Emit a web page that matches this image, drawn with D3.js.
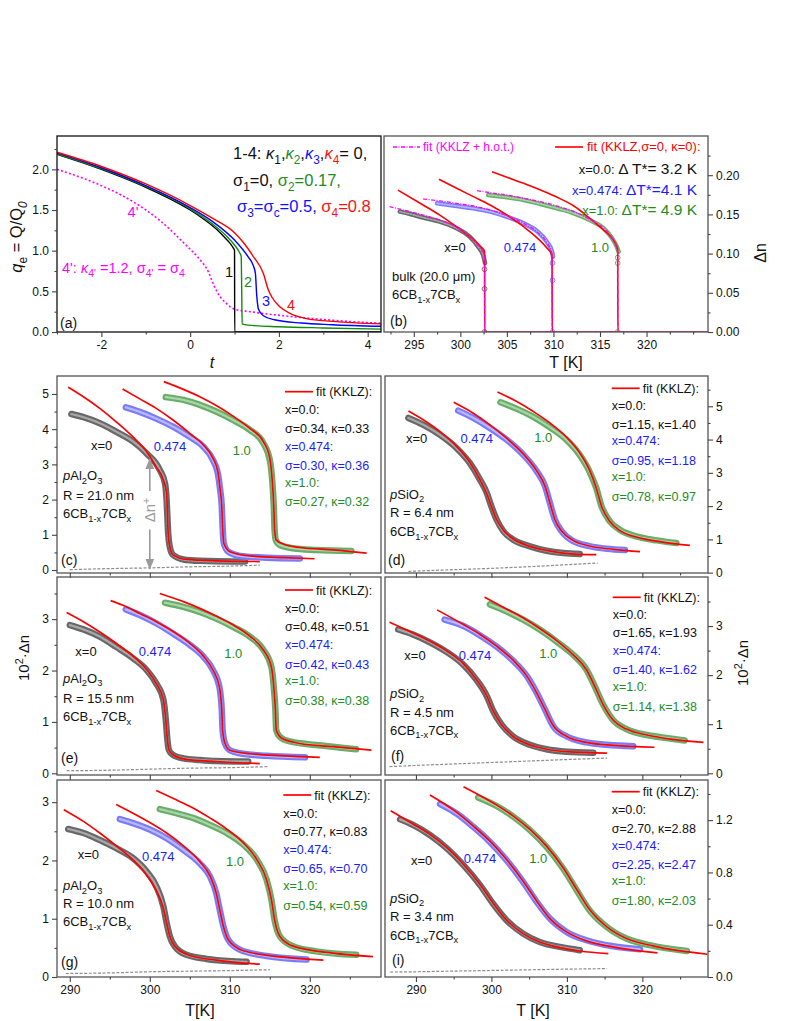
<!DOCTYPE html>
<html>
<head>
<meta charset="utf-8">
<script src="https://cdn.jsdelivr.net/npm/d3@7"></script>
<style>
  body { margin: 0; background: #fff; }
  svg { font-family: "Liberation Sans", Arial, sans-serif; }
</style>
</head>
<body>
<script>
// ---------- panel (a): q_e vs t ----------
const aCurve1 = [[-3,2.185],[-2.5,2.095],[-2,2.0],[-1.5,1.895],[-1,1.78],[-0.5,1.65],[0,1.5],[0.3,1.39],[0.6,1.26],[0.8,1.15],[0.9,1.09],[0.97,1.035],[1.0,1.0],[1.004,0.0],[4.3,0.0]];
const aCurve2 = [[-3,2.19],[-2,2.01],[-1,1.79],[0,1.515],[0.5,1.33],[0.8,1.19],[1.0,1.07],[1.1,0.99],[1.15,0.93],[1.162,0.5],[1.172,0.10],[1.3,0.085],[2,0.065],[3,0.05],[4.3,0.035]];
const aCurve3 = [[-3,2.20],[-2,2.02],[-1,1.80],[0,1.53],[0.5,1.36],[1.0,1.13],[1.3,0.93],[1.42,0.82],[1.47,0.72],[1.5,0.45],[1.54,0.28],[1.65,0.2],[1.9,0.15],[2.5,0.11],[3.2,0.09],[4.3,0.07]];
const aCurve4 = [[-3,2.21],[-2,2.035],[-1,1.82],[0,1.555],[0.5,1.40],[1.0,1.22],[1.2,1.10],[1.42,0.93],[1.65,0.72],[1.76,0.52],[1.84,0.43],[2.02,0.31],[2.25,0.23],[2.62,0.165],[3.2,0.13],[4.3,0.10]];
const aCurve4p = [[-3,2.0],[-2.41,1.89],[-2.0,1.80],[-1.28,1.60],[-0.68,1.37],[-0.08,1.06],[0.22,0.89],[0.41,0.74],[0.5,0.62],[0.62,0.48],[0.82,0.35],[1.0,0.28],[1.35,0.25],[2.1,0.20],[3.2,0.145],[4.3,0.107]];
const aXTicks = [-2,0,2,4], aXMinor = [-3,-1,1,3];
const aYTicks = [0,0.5,1.0,1.5,2.0], aYMinor = [0.25,0.75,1.25,1.75,2.25];

// ---------- panel (b): bulk ----------
const bData0 = [[293.5,0.1535],[294.6,0.1505],[296.0,0.146],[297.8,0.1407],[299.6,0.1322],[301.0,0.1216],[301.9,0.109],[302.5,0.096],[302.65,0.088]];
const bFit0 = [[293.3,0.181],[296.0,0.162],[297.8,0.149],[299.6,0.134],[301.0,0.1216],[302.1,0.110],[302.6,0.103],[302.62,0],[309.9,0]];
const bHot0 = [[292.4,0.1598],[294.2,0.1547],[296.0,0.1492],[297.8,0.1428],[299.6,0.1335],[301.0,0.1216],[302.1,0.107],[302.6,0.096],[302.62,0],[326.6,0]];
const bData474 = [[297.5,0.1641],[299.6,0.1607],[301.4,0.1577],[303.2,0.1535],[305.0,0.147],[306.8,0.1386],[308.3,0.128],[309.3,0.115],[309.85,0.1025],[309.95,0.096]];
const bFit474 = [[297.7,0.1948],[299.6,0.1833],[301.4,0.1727],[303.2,0.162],[305.0,0.1492],[306.8,0.1343],[308.3,0.1195],[309.3,0.107],[309.85,0.0982],[309.87,0],[316.9,0]];
const bHot474 = [[296.0,0.1697],[297.8,0.1672],[299.6,0.1641],[301.4,0.1607],[303.2,0.1556],[305.0,0.1484],[306.8,0.1386],[308.3,0.1271],[309.3,0.114],[309.85,0.100],[309.87,0]];
const bData1 = [[303.0,0.1748],[305.0,0.1718],[306.8,0.1684],[308.6,0.1633],[310.4,0.1577],[312.2,0.1514],[313.9,0.1428],[315.4,0.1322],[316.3,0.1195],[316.8,0.109],[317.0,0.1025]];
const bFit1 = [[303.4,0.2045],[305.0,0.1973],[306.8,0.1896],[308.6,0.181],[310.4,0.1718],[312.2,0.1607],[313.9,0.145],[315.4,0.130],[316.3,0.1195],[316.8,0.109],[316.9,0.1046],[316.92,0],[326.6,0]];
const bHot1 = [[301.8,0.1803],[303.2,0.1777],[305.0,0.1748],[306.8,0.1705],[308.6,0.1662],[310.4,0.1607],[312.2,0.1535],[313.9,0.1437],[315.4,0.1322],[316.3,0.1195],[316.9,0.1025],[316.92,0]];
const bDrop0 = [[302.6,0.08],[302.6,0.055],[302.6,0.0]];
const bDrop474 = [[309.9,0.088],[309.9,0.066],[309.9,0.0]];
const bDrop1 = [[316.9,0.095],[316.9,0.088],[316.9,0.0]];
const bXTicks = [295,300,305,310,315,320], bXMinor = [292.5,297.5,302.5,307.5,312.5,317.5,322.5,325];
const bYTicks = [0,0.05,0.10,0.15,0.20], bYMinor = [0.025,0.075,0.125,0.175,0.225];

// ---------- panel (c): pAl2O3, R = 21.0 nm ----------
const cData0 = [[290.2,4.43],[291.7,4.34],[293.75,4.17],[295.8,3.93],[297.9,3.65],[299.6,3.31],[301.25,2.84],[301.9,2.46],[302.1,1.99],[302.2,1.51],[302.3,1.04],[302.5,0.66],[302.9,0.43],[304.2,0.30],[306.25,0.26],[310.4,0.24],[311.9,0.24]];
const cFit0 = [[289.8,5.19],[291.7,4.92],[293.75,4.59],[295.8,4.21],[297.9,3.78],[299.6,3.36],[300.8,2.93],[301.7,2.56],[302.1,2.18],[302.2,1.61],[302.3,1.04],[302.5,0.66],[302.9,0.43],[304.6,0.30],[308.3,0.26],[313.75,0.24]];
const cData474 = [[297.0,4.62],[298.75,4.49],[300.8,4.30],[302.9,4.07],[305.0,3.78],[306.7,3.50],[307.9,3.12],[308.5,2.75],[308.8,2.27],[309.0,1.80],[309.1,1.23],[309.25,0.76],[309.8,0.52],[311.25,0.40],[314.6,0.35],[318.75,0.33]];
const cFit474 = [[296.6,5.14],[298.75,4.86],[300.8,4.59],[302.9,4.26],[305.0,3.88],[306.7,3.55],[307.9,3.17],[308.5,2.79],[308.8,2.27],[309.0,1.80],[309.1,1.23],[309.25,0.76],[310.0,0.52],[312.5,0.40],[316.7,0.35],[320.6,0.32]];
const cData1 = [[302.0,4.91],[304.2,4.83],[306.25,4.69],[308.3,4.50],[310.4,4.26],[312.5,3.98],[314.2,3.60],[315.0,3.13],[315.3,2.56],[315.5,1.80],[315.6,1.14],[315.75,0.85],[316.25,0.71],[317.9,0.62],[320.8,0.57],[325.2,0.54]];
const cFit1 = [[301.75,5.35],[304.2,5.13],[306.25,4.92],[308.3,4.67],[310.4,4.37],[312.5,4.02],[314.2,3.64],[315.0,3.17],[315.3,2.56],[315.5,1.80],[315.6,1.14],[315.8,0.85],[316.7,0.74],[318.75,0.64],[322.9,0.57],[327.1,0.48]];
const cBase = [[290,0.01],[295,0.04],[300,0.06],[305,0.09],[310,0.11],[313.75,0.14]];

// ---------- panel (d): pSiO2, R = 6.4 nm ----------
const dData0 = [[289.0,4.65],[291.0,4.44],[293.2,4.14],[295.4,3.74],[297.15,3.29],[298.5,2.79],[299.4,2.39],[300.0,1.99],[300.7,1.59],[301.6,1.24],[302.9,0.99],[305.1,0.79],[307.3,0.66],[309.5,0.59],[311.7,0.56]];
const dFit0 = [[289.0,4.86],[291.0,4.59],[293.2,4.24],[295.4,3.79],[297.15,3.31],[298.5,2.79],[299.4,2.37],[300.0,1.99],[300.7,1.59],[301.6,1.27],[302.9,1.01],[305.1,0.79],[307.3,0.67],[309.5,0.59],[311.7,0.55],[313.9,0.54]];
const dData474 = [[295.6,4.87],[297.6,4.65],[299.8,4.35],[302.0,4.00],[304.2,3.55],[306.0,3.05],[307.1,2.60],[307.75,2.10],[308.4,1.60],[309.3,1.25],[310.8,0.95],[313.0,0.80],[315.3,0.72],[317.7,0.68]];
const dFit474 = [[295.0,5.12],[297.6,4.79],[299.8,4.44],[302.0,4.04],[304.2,3.57],[306.0,3.06],[307.1,2.60],[307.75,2.10],[308.4,1.60],[309.3,1.25],[310.8,0.97],[313.0,0.80],[316.2,0.70],[319.7,0.63]];
const dData1 = [[301.2,5.12],[303.3,4.93],[305.5,4.69],[307.75,4.37],[309.96,3.99],[311.7,3.54],[313.0,3.04],[313.9,2.54],[314.6,1.99],[315.7,1.54],[317.0,1.29],[319.2,1.09],[321.9,0.97],[324.5,0.89]];
const dFit1 = [[300.8,5.43],[303.3,5.15],[305.5,4.85],[307.75,4.50],[309.96,4.07],[311.7,3.60],[313.0,3.08],[313.9,2.54],[314.6,1.99],[315.7,1.54],[317.0,1.27],[319.2,1.07],[322.7,0.92],[326.3,0.82]];
const dBase = [[289,0.04],[295,0.09],[300,0.13],[305,0.18],[310,0.24],[314.1,0.29]];

// ---------- panel (e): pAl2O3, R = 15.5 nm ----------
const eData0 = [[290.0,2.885],[291.7,2.80],[293.75,2.66],[295.8,2.46],[297.9,2.24],[299.6,2.01],[300.8,1.75],[301.7,1.43],[302.0,1.04],[302.2,0.65],[302.4,0.45],[302.9,0.36],[304.2,0.29],[306.25,0.26],[308.3,0.24],[312.3,0.23]];
const eFit0 = [[289.6,3.13],[291.7,2.95],[293.75,2.75],[295.8,2.53],[297.9,2.28],[299.6,2.02],[300.8,1.75],[301.7,1.43],[302.0,1.04],[302.2,0.65],[302.4,0.45],[302.9,0.36],[304.6,0.27],[308.3,0.23],[313.75,0.19]];
const eData474 = [[297.0,3.19],[298.75,3.08],[300.8,2.92],[302.9,2.72],[305.0,2.50],[306.7,2.27],[307.9,2.01],[308.7,1.68],[309.0,1.23],[309.1,0.84],[309.4,0.58],[310.0,0.45],[311.25,0.39],[314.6,0.34],[319.4,0.31]];
const eFit474 = [[295.1,3.36],[297.1,3.24],[298.75,3.11],[300.8,2.95],[302.9,2.76],[305.0,2.53],[306.7,2.28],[307.9,2.01],[308.7,1.68],[309.0,1.23],[309.1,0.84],[309.4,0.58],[310.0,0.45],[312.5,0.38],[316.7,0.34],[321.25,0.31]];
const eData1 = [[301.9,3.32],[304.2,3.24],[306.25,3.14],[308.3,3.01],[310.4,2.85],[312.5,2.66],[314.2,2.40],[315.2,2.07],[315.5,1.68],[315.7,1.23],[315.8,0.84],[316.25,0.71],[317.5,0.62],[320.8,0.55],[325.8,0.47]];
const eFit1 = [[301.25,3.50],[304.2,3.34],[306.25,3.21],[308.3,3.06],[310.4,2.89],[312.5,2.67],[314.2,2.40],[315.2,2.07],[315.5,1.68],[315.7,1.23],[315.8,0.84],[316.5,0.68],[318.75,0.58],[322.9,0.52],[327.7,0.45]];
const eBase = [[289.6,0.05],[295,0.06],[300,0.08],[305,0.10],[310,0.11],[314.8,0.13]];

// ---------- panel (f): pSiO2, R = 4.5 nm ----------
const fData0 = [[287.65,2.93],[289.6,2.83],[291.85,2.67],[294.1,2.47],[296.3,2.21],[298.0,1.91],[299.4,1.57],[300.2,1.28],[301.35,0.99],[302.9,0.75],[305.1,0.58],[307.3,0.49],[310.0,0.44],[313.5,0.42]];
const fFit0 = [[286.5,3.08],[289.6,2.86],[291.85,2.69],[294.1,2.49],[296.3,2.23],[298.0,1.91],[299.4,1.57],[300.2,1.28],[301.35,0.99],[302.9,0.75],[305.1,0.58],[307.3,0.49],[310.0,0.44],[315.3,0.41]];
const fData474 = [[293.8,3.13],[296.3,3.00],[298.5,2.81],[300.7,2.58],[302.9,2.29],[304.7,1.98],[306.0,1.64],[307.1,1.30],[308.2,0.96],[310.0,0.75],[312.6,0.63],[315.3,0.58],[318.8,0.55]];
const fFit474 = [[292.8,3.33],[296.3,3.03],[298.5,2.83],[300.7,2.59],[302.9,2.30],[304.7,1.98],[306.0,1.64],[307.1,1.30],[308.2,0.97],[310.0,0.75],[312.6,0.63],[316.2,0.57],[321.6,0.53]];
const fData1 = [[299.8,3.44],[302.0,3.30],[304.2,3.13],[306.4,2.93],[308.6,2.69],[310.8,2.42],[312.6,2.11],[313.7,1.77],[314.8,1.40],[316.1,1.09],[317.9,0.90],[320.6,0.78],[323.2,0.72],[325.6,0.67]];
const fFit1 = [[299.1,3.59],[302.0,3.35],[304.2,3.17],[306.4,2.95],[308.6,2.71],[310.8,2.42],[312.6,2.11],[313.7,1.77],[314.8,1.40],[316.1,1.09],[317.9,0.90],[320.6,0.78],[324.1,0.69],[328.1,0.63]];
const fBase = [[286.5,0.135],[290,0.16],[295,0.19],[300,0.22],[305,0.25],[310,0.28],[315.3,0.31]];

// ---------- panel (g): pAl2O3, R = 10.0 nm ----------
const gData0 = [[289.8,2.54],[291.7,2.47],[293.75,2.35],[295.8,2.21],[297.9,2.04],[299.6,1.81],[300.8,1.56],[301.7,1.21],[302.1,0.93],[302.5,0.70],[303.1,0.53],[304.6,0.38],[307.1,0.31],[310.4,0.27],[312.1,0.26]];
const gFit0 = [[289.25,2.87],[291.7,2.67],[293.75,2.47],[295.8,2.25],[297.9,2.01],[299.6,1.75],[300.8,1.49],[301.7,1.18],[302.1,0.93],[302.5,0.70],[303.1,0.53],[305.0,0.37],[308.3,0.29],[313.75,0.22]];
const gData474 = [[296.25,2.71],[297.9,2.64],[300.0,2.53],[302.1,2.38],[304.2,2.18],[306.25,1.95],[307.5,1.73],[308.3,1.44],[308.75,1.15],[309.2,0.87],[309.8,0.64],[311.25,0.47],[314.6,0.36],[319.6,0.30]];
const gFit474 = [[295.8,2.96],[297.9,2.81],[300.0,2.65],[302.1,2.47],[304.2,2.25],[306.25,1.98],[307.5,1.74],[308.3,1.44],[308.75,1.15],[309.2,0.87],[309.8,0.64],[311.7,0.45],[316.7,0.34],[321.7,0.29]];
const gData1 = [[301.25,2.88],[303.3,2.81],[305.4,2.73],[307.5,2.61],[309.6,2.47],[311.7,2.27],[313.4,2.01],[314.6,1.67],[315.2,1.33],[315.6,0.98],[316.25,0.70],[317.9,0.53],[320.8,0.44],[325.8,0.38]];
const gFit1 = [[300.8,3.20],[303.3,3.04],[305.4,2.90],[307.5,2.73],[309.6,2.54],[311.7,2.30],[313.4,2.01],[314.6,1.67],[315.2,1.33],[315.6,0.98],[316.25,0.70],[317.9,0.53],[322.9,0.41],[327.9,0.35]];
const gBase = [[289.5,0.06],[295,0.07],[300,0.09],[305,0.10],[310,0.11],[315,0.125]];

// ---------- panel (i): pSiO2, R = 3.4 nm ----------
const iData0 = [[287.9,1.206],[289.6,1.163],[291.85,1.086],[294.1,0.984],[296.3,0.856],[298.5,0.703],[300.2,0.562],[302.0,0.435],[304.2,0.332],[306.4,0.268],[309.1,0.230],[311.7,0.205]];
const iFit0 = [[286.65,1.272],[289.6,1.171],[291.85,1.091],[294.1,0.989],[296.3,0.861],[298.5,0.708],[300.2,0.567],[302.0,0.435],[304.2,0.332],[306.4,0.268],[309.1,0.225],[311.7,0.199],[315.5,0.179]];
const iData474 = [[293.2,1.323],[295.4,1.251],[297.6,1.149],[299.8,1.034],[302.0,0.894],[304.2,0.728],[306.0,0.575],[307.75,0.447],[309.96,0.345],[312.6,0.281],[316.1,0.235],[319.7,0.212]];
const iFit474 = [[291.85,1.392],[295.4,1.259],[297.6,1.154],[299.8,1.039],[302.0,0.899],[304.2,0.733],[306.0,0.580],[307.75,0.447],[309.96,0.345],[312.6,0.276],[316.1,0.230],[322.0,0.184]];
const iData1 = [[298.25,1.374],[300.7,1.308],[302.9,1.226],[305.1,1.124],[307.3,0.996],[309.5,0.830],[311.3,0.664],[313.0,0.511],[315.3,0.383],[317.9,0.294],[321.4,0.238],[325.9,0.199]];
const iFit1 = [[296.3,1.456],[300.7,1.315],[302.9,1.231],[305.1,1.129],[307.3,1.001],[309.5,0.835],[311.3,0.669],[313.0,0.516],[315.3,0.383],[317.9,0.294],[321.4,0.238],[328.6,0.174]];
const iBase = [[286.6,0.038],[290,0.04],[295,0.045],[300,0.05],[305,0.055],[310,0.06],[315.3,0.064]];

// tick values for the T panels
const tTicks = [290,300,310,320], tMinor = [295,305,315,325];
const y5Ticks = [0,1,2,3,4,5], y5Minor = [0.5,1.5,2.5,3.5,4.5,5.5];
const y3Ticks = [0,1,2,3], y3Minor = [0.5,1.5,2.5,3.5];
const iYTicks = [0,0.4,0.8,1.2], iYMinor = [0.2,0.6,1.0,1.4];

// fit parameters (legend text)
const fitParams = {
  c: ["σ=0.34, κ=0.33", "σ=0.30, κ=0.36", "σ=0.27, κ=0.32"],
  d: ["σ=1.15, κ=1.40", "σ=0.95, κ=1.18", "σ=0.78, κ=0.97"],
  e: ["σ=0.48, κ=0.51", "σ=0.42, κ=0.43", "σ=0.38, κ=0.38"],
  f: ["σ=1.65, κ=1.93", "σ=1.40, κ=1.62", "σ=1.14, κ=1.38"],
  g: ["σ=0.77, κ=0.83", "σ=0.65, κ=0.70", "σ=0.54, κ=0.59"],
  i: ["σ=2.70, κ=2.88", "σ=2.25, κ=2.47", "σ=1.80, κ=2.03"]
};

const RED = "#ff0000", BLUE = "#1c1cff", GREEN = "#1e8c1e", MAG = "#ff00ff";
const GRAY_O = "#686868", GRAY_I = "#a8a8a8";
const BLUE_O = "#7b7bfa", BLUE_I = "#b9b9ff";
const GREEN_O = "#68ad68", GREEN_I = "#aad4aa";

const svg = d3.select("body").append("svg").attr("width", 789).attr("height", 1021);

const boxes = {
  a: {x0: 57, x1: 381, y0: 136, y1: 332},
  b: {x0: 384, x1: 708, y0: 136, y1: 332},
  c: {x0: 57, x1: 381, y0: 376, y1: 573},
  d: {x0: 385, x1: 708, y0: 376, y1: 573},
  e: {x0: 57, x1: 381, y0: 577, y1: 775},
  f: {x0: 385, x1: 708, y0: 577, y1: 775},
  g: {x0: 57, x1: 381, y0: 780, y1: 977},
  i: {x0: 385, x1: 708, y0: 780, y1: 977}
};

function makePanel(key, xd, yd) {
  const b = boxes[key];
  const x = d3.scaleLinear().domain(xd).range([b.x0, b.x1]);
  const y = d3.scaleLinear().domain(yd).range([b.y1, b.y0]);
  svg.append("clipPath").attr("id", "clip-" + key)
    .append("rect").attr("x", b.x0).attr("y", b.y0)
    .attr("width", b.x1 - b.x0).attr("height", b.y1 - b.y0);
  const g = svg.append("g").attr("clip-path", `url(#clip-${key})`);
  return {x, y, b, g};
}

function frame(p, color) {
  svg.append("rect").attr("x", p.b.x0).attr("y", p.b.y0)
    .attr("width", p.b.x1 - p.b.x0).attr("height", p.b.y1 - p.b.y0)
    .attr("fill", "none").attr("stroke", color || "#555").attr("stroke-width", 1.3);
}

function axis(p, side, major, minor, fmt) {
  const sc = side === "bottom" ? p.x : p.y;
  const mk = side === "bottom" ? d3.axisBottom : side === "left" ? d3.axisLeft : d3.axisRight;
  const pos = side === "bottom" ? `translate(0,${p.b.y1})`
    : side === "left" ? `translate(${p.b.x0},0)` : `translate(${p.b.x1},0)`;
  const tidy = g => {
    g.select(".domain").remove();
    g.selectAll("line").attr("stroke", "#444").attr("stroke-width", 1.1);
    g.selectAll("text").attr("font-size", 12).attr("fill", "#111")
      .attr("font-family", "'Liberation Sans', Arial, sans-serif");
  };
  svg.append("g").attr("transform", pos)
    .call(mk(sc).tickValues(minor).tickSize(2.5).tickFormat("")).call(tidy);
  svg.append("g").attr("transform", pos)
    .call(mk(sc).tickValues(major).tickSize(5).tickPadding(3).tickFormat(fmt || "")).call(tidy);
}

const lineOf = p => d3.line().x(d => p.x(d[0])).y(d => p.y(d[1])).curve(d3.curveMonotoneX);

function band(p, data, outer, inner, w) {
  w = w || 6.5;
  p.g.append("path").attr("d", lineOf(p)(data)).attr("fill", "none")
    .attr("stroke", outer).attr("stroke-width", w)
    .attr("stroke-linecap", "round").attr("stroke-linejoin", "round");
  p.g.append("path").attr("d", lineOf(p)(data)).attr("fill", "none")
    .attr("stroke", inner).attr("stroke-width", w * 0.35)
    .attr("stroke-linecap", "round").attr("stroke-dasharray", "2,1.5");
}

function curve(p, data, color, w, dash) {
  const path = p.g.append("path").attr("d", lineOf(p)(data)).attr("fill", "none")
    .attr("stroke", color).attr("stroke-width", w || 1.6);
  if (dash) path.attr("stroke-dasharray", dash);
  return path;
}

// rich text with sub/superscripts; y is the baseline
function rich(x, y, parts, size, opt) {
  opt = opt || {};
  const t = svg.append("text").attr("x", x).attr("y", y).attr("font-size", size)
    .attr("text-anchor", opt.anchor || "start").attr("fill", opt.fill || "#111");
  if (opt.rotate) t.attr("transform", `rotate(${opt.rotate},${x},${y})`);
  if (opt.italic) t.attr("font-style", "italic");
  let shift = 0;
  parts.forEach(q => {
    if (typeof q === "string") q = {t: q};
    const sp = t.append("tspan").text(q.t);
    const target = q.s === "sub" ? size * 0.28 : q.s === "sup" ? -size * 0.38 : 0;
    if (target - shift) sp.attr("dy", target - shift);
    shift = target;
    if (q.s) sp.attr("font-size", size * 0.72);
    else if (q.size) sp.attr("font-size", q.size);
    if (q.c) sp.attr("fill", q.c);
    if (q.i) sp.attr("font-style", "italic");
  });
  return t;
}

const mix = ["6CB", {t: "1-x", s: "sub"}, "7CB", {t: "x", s: "sub"}];

// ============ panel (a) ============
{
  const p = makePanel("a", [-3, 4.3], [0, 2.41]);
  curve(p, aCurve4p, MAG, 1.6, "2,2.2");
  curve(p, aCurve1, "#000", 1.4);
  curve(p, aCurve2, "#138a13", 1.4);
  curve(p, aCurve3, "#0000ff", 1.4);
  curve(p, aCurve4, RED, 1.4);
  frame(p, "#111");
  axis(p, "bottom", aXTicks, aXMinor, d => String(d));
  axis(p, "left", aYTicks, aYMinor, d3.format(".1f"));

  const G = "#1e8c1e", B = "#1010ff", R = "#ff1010";
  rich(233, 159, ["1-4:  ", {t: "κ", i: 1}, {t: "1", s: "sub"}, ",",
    {t: "κ", c: G, i: 1}, {t: "2", s: "sub", c: G}, ",",
    {t: "κ", c: B, i: 1}, {t: "3", s: "sub", c: B}, ",",
    {t: "κ", c: R, i: 1}, {t: "4", s: "sub", c: R}, "= 0,"], 16.5);
  rich(233, 186, ["σ", {t: "1", s: "sub"}, "=0,  ",
    {t: "σ", c: G}, {t: "2", s: "sub", c: G}, {t: "=0.17,", c: G}], 16.5);
  rich(237, 212, [{t: "σ", c: B}, {t: "3", s: "sub", c: B}, {t: "=σ", c: B}, {t: "c", s: "sub", c: B},
    {t: "=0.5,", c: B}, "  ", {t: "σ", c: R}, {t: "4", s: "sub", c: R}, {t: "=0.8", c: R}], 16.5);
  rich(62, 273, ["4': ", {t: "κ", i: 1}, {t: "4'", s: "sub"}, " =1.2, σ", {t: "4'", s: "sub"}, " = σ", {t: "4", s: "sub"}], 14.5, {fill: MAG});
  rich(133, 217, ["4'"], 14.5, {fill: MAG, anchor: "middle"});
  rich(229, 277, ["1"], 14.5, {anchor: "middle"});
  rich(248, 287, ["2"], 14.5, {anchor: "middle", fill: G});
  rich(266, 306, ["3"], 14.5, {anchor: "middle", fill: B});
  rich(291, 310, ["4"], 14.5, {anchor: "middle", fill: R});
  rich(60, 328, ["(a)"], 14);
  rich(22, 237, [{t: "q", i: 1}, {t: "e", s: "sub"}, " = Q/Q", {t: "0", s: "sub", i: 1}], 16.5, {rotate: -90, anchor: "middle"});
  rich(212, 368, ["t"], 16, {anchor: "middle", italic: true});
}

// ============ panel (b) ============
{
  const p = makePanel("b", [291.8, 326.6], [0, 0.25]);
  band(p, bData0, GRAY_O, GRAY_I, 4.5);
  band(p, bData474, BLUE_O, BLUE_I, 4.5);
  band(p, bData1, GREEN_O, GREEN_I, 4.5);
  [[bDrop0, GRAY_O], [bDrop474, BLUE_O], [bDrop1, GREEN_O]].forEach(([pts, col]) => {
    p.g.selectAll(null).data(pts).enter().append("circle")
      .attr("cx", d => p.x(d[0])).attr("cy", d => p.y(d[1])).attr("r", 2.4)
      .attr("fill", "none").attr("stroke", col).attr("stroke-width", 0.9);
  });
  curve(p, bFit0, RED, 1.6);
  curve(p, bFit474, RED, 1.6);
  curve(p, bFit1, RED, 1.6);
  curve(p, bHot0, MAG, 1.3, "4,1.5,1,1.5");
  curve(p, bHot474, MAG, 1.3, "4,1.5,1,1.5");
  curve(p, bHot1, MAG, 1.3, "4,1.5,1,1.5");
  frame(p);
  axis(p, "bottom", bXTicks, bXMinor, d => String(d));
  axis(p, "right", bYTicks, bYMinor, d3.format(".2f"));

  svg.append("line").attr("x1", 393).attr("x2", 420).attr("y1", 147).attr("y2", 147)
    .attr("stroke", MAG).attr("stroke-width", 1.3).attr("stroke-dasharray", "4,1.5,1,1.5");
  rich(423, 151, ["fit (KKLZ + h.o.t.)"], 12, {fill: MAG});
  svg.append("line").attr("x1", 555).attr("x2", 583).attr("y1", 147).attr("y2", 147)
    .attr("stroke", RED).attr("stroke-width", 1.6);
  rich(587, 151, ["fit (KKLZ,σ=0, κ=0):"], 13, {fill: RED});
  rich(697, 174, ["x=0.0:  ", {t: "Δ T*= 3.2 K", size: 15.5}], 13, {anchor: "end"});
  rich(697, 195, ["x=0.474: ", {t: "ΔT*=4.1 K", size: 15.5}], 13, {anchor: "end", fill: BLUE});
  rich(697, 215, ["x=1.0: ", {t: "ΔT*= 4.9 K", size: 15.5}], 13, {anchor: "end", fill: GREEN});
  rich(455, 252, ["x=0"], 13, {anchor: "middle"});
  rich(520, 252, ["0.474"], 13, {anchor: "middle", fill: BLUE});
  rich(600, 252, ["1.0"], 13, {anchor: "middle", fill: GREEN});
  rich(392, 281, ["bulk (20.0 μm)"], 13);
  rich(392, 299, mix, 13);
  rich(390, 326, ["(b)"], 14);
  rich(566, 368, ["T [K]"], 16, {anchor: "middle"});
  rich(766, 253, ["Δn"], 16, {rotate: -90, anchor: "middle"});
}

// ============ panels (c)-(i) ============
function tPanel(key, xd, yd, series, base, side, yt, ym, yfmt, showX, txt) {
  const p = makePanel(key, xd, yd);
  curve(p, base, "#8c8c8c", 1.2, "3,1.6");
  band(p, series[0], GRAY_O, GRAY_I);
  band(p, series[2], BLUE_O, BLUE_I);
  band(p, series[4], GREEN_O, GREEN_I);
  curve(p, series[1], RED, 1.7);
  curve(p, series[3], RED, 1.7);
  curve(p, series[5], RED, 1.7);
  frame(p);
  axis(p, "bottom", tTicks, tMinor, showX ? (d => String(d)) : "");
  axis(p, side, yt, ym, yfmt);

  // legend
  const L = txt.leg;
  svg.append("line").attr("x1", L[0]).attr("x2", L[0] + 28).attr("y1", L[1]).attr("y2", L[1])
    .attr("stroke", RED).attr("stroke-width", 1.7);
  rich(L[0] + 31, L[1] + 4.5, ["fit (KKLZ):"], 12.5);
  const lines = [["x=0.0:", "#111"], [fitParams[key][0], "#111"], ["x=0.474:", BLUE],
    [fitParams[key][1], BLUE], ["x=1.0:", GREEN], [fitParams[key][2], GREEN]];
  lines.forEach((ln, k) => rich(L[0], txt.rows[k], [ln[0]], 12.5, {fill: ln[1]}));
  rich(txt.lab[0][0], txt.lab[0][1], ["x=0"], 13, {anchor: "middle"});
  rich(txt.lab[1][0], txt.lab[1][1], ["0.474"], 13, {anchor: "middle", fill: BLUE});
  rich(txt.lab[2][0], txt.lab[2][1], ["1.0"], 13, {anchor: "middle", fill: GREEN});
  const mat = txt.mat === "Al"
    ? [{t: "p", i: 1}, "Al", {t: "2", s: "sub"}, "O", {t: "3", s: "sub"}]
    : [{t: "p", i: 1}, "SiO", {t: "2", s: "sub"}];
  rich(txt.sx, txt.sy[0], mat, 13);
  rich(txt.sx, txt.sy[1], [txt.R], 13);
  rich(txt.sx, txt.sy[2], mix, 13);
  rich(txt.tag[0], txt.tag[1], [txt.tag[2]], 14);
  return p;
}

const xLeft = [288.4, 328.9], xRight = [285.9, 328.7];

const pc = tPanel("c", xLeft, [-0.085, 5.51], [cData0, cFit0, cData474, cFit474, cData1, cFit1], cBase,
  "left", y5Ticks, y5Minor.slice(0, 5), d3.format("d"), false,
  {leg: [285, 391.7], rows: [414, 433, 451, 470, 487, 506],
   lab: [[101.7, 449.5], [170, 451], [241.7, 454.5]], mat: "Al", R: "R = 21.0 nm",
   sx: 63, sy: [480, 499.5, 518], tag: [61, 565, "(c)"]});

// Δn+ arrow in (c), broken by its label
{
  const defs = svg.append("defs");
  defs.append("marker").attr("id", "arr").attr("viewBox", "0 0 10 10")
    .attr("refX", 9).attr("refY", 5).attr("markerWidth", 7).attr("markerHeight", 7)
    .attr("orient", "auto-start-reverse")
    .append("path").attr("d", "M0,1 L10,5 L0,9 Z").attr("fill", "#9a9a9a");
  const ax = pc.x(300);
  svg.append("line").attr("x1", ax).attr("x2", ax)
    .attr("y1", pc.y(1.2)).attr("y2", pc.y(3.15))
    .attr("stroke", "#9a9a9a").attr("stroke-width", 1.6).attr("marker-end", "url(#arr)");
  svg.append("line").attr("x1", ax).attr("x2", ax)
    .attr("y1", pc.y(1.15)).attr("y2", pc.y(0.04))
    .attr("stroke", "#9a9a9a").attr("stroke-width", 1.6).attr("marker-end", "url(#arr)");
  svg.append("rect").attr("x", ax - 8).attr("y", 491).attr("width", 16).attr("height", 38).attr("fill", "#fff");
  rich(ax + 5.5, 510, ["Δn", {t: "+", s: "sup"}], 15, {rotate: -90, anchor: "middle", fill: "#9a9a9a"});
}

tPanel("d", xRight, [-0.01, 5.91], [dData0, dFit0, dData474, dFit474, dData1, dFit1], dBase,
  "right", y5Ticks, y5Minor, d3.format("d"), false,
  {leg: [611.7, 388.3], rows: [409.5, 428.5, 444.5, 464.5, 480.5, 501],
   lab: [[416.7, 443], [476.7, 443], [543.3, 442]], mat: "Si", R: "R = 6.4 nm",
   sx: 390, sy: [498.5, 517, 536], tag: [388, 565, "(d)"]});

tPanel("e", xLeft, [-0.033, 3.82], [eData0, eFit0, eData474, eFit474, eData1, eFit1], eBase,
  "left", y3Ticks, y3Minor, d3.format("d"), false,
  {leg: [285, 590], rows: [613, 631, 648.5, 668.5, 684.5, 704.5],
   lab: [[86, 656], [155, 656], [233.3, 658]], mat: "Al", R: "R = 15.5 nm",
   sx: 63, sy: [682.5, 703, 721], tag: [61, 763, "(e)"]});
rich(29, 658, ["10", {t: "2", s: "sup"}, "·Δn"], 15, {rotate: -90, anchor: "middle"});

tPanel("f", xRight, [-0.035, 4.0], [fData0, fFit0, fData474, fFit474, fData1, fFit1], fBase,
  "right", y3Ticks, y3Minor, d3.format("d"), false,
  {leg: [612.7, 597.3], rows: [618.5, 637, 654.5, 674, 691, 710.5],
   lab: [[415, 659.5], [475, 659.5], [548.3, 658]], mat: "Si", R: "R = 4.5 nm",
   sx: 390, sy: [698, 716.5, 734.5], tag: [391, 761, "(f)"]});
rich(748, 663, ["10", {t: "2", s: "sup"}, "·Δn"], 15, {rotate: -90, anchor: "middle"});

tPanel("g", xLeft, [0, 3.38], [gData0, gFit0, gData474, gFit474, gData1, gFit1], gBase,
  "left", y3Ticks, y3Minor.slice(0, 3), d3.format("d"), true,
  {leg: [283.3, 795], rows: [818, 836, 853.5, 873, 889.5, 909.5],
   lab: [[88.3, 858.5], [158.3, 861], [235, 866]], mat: "Al", R: "R = 10.0 nm",
   sx: 63, sy: [890, 908, 926], tag: [61, 967, "(g)"]});
rich(200, 1016, ["T[K]"], 16, {anchor: "middle"});

tPanel("i", xRight, [0, 1.507], [iData0, iFit0, iData474, iFit474, iData1, iFit1], iBase,
  "right", iYTicks, iYMinor, d3.format(".1f"), true,
  {leg: [611.7, 791.7], rows: [814, 833, 849.5, 868.5, 884.5, 904.5],
   lab: [[421.7, 864.5], [480, 863], [538.3, 863]], mat: "Si", R: "R = 3.4 nm",
   sx: 390, sy: [902.5, 921, 939.5], tag: [392, 964.5, "(i)"]});
rich(533, 1016, ["T [K]"], 16, {anchor: "middle"});
</script>
</body>
</html>
